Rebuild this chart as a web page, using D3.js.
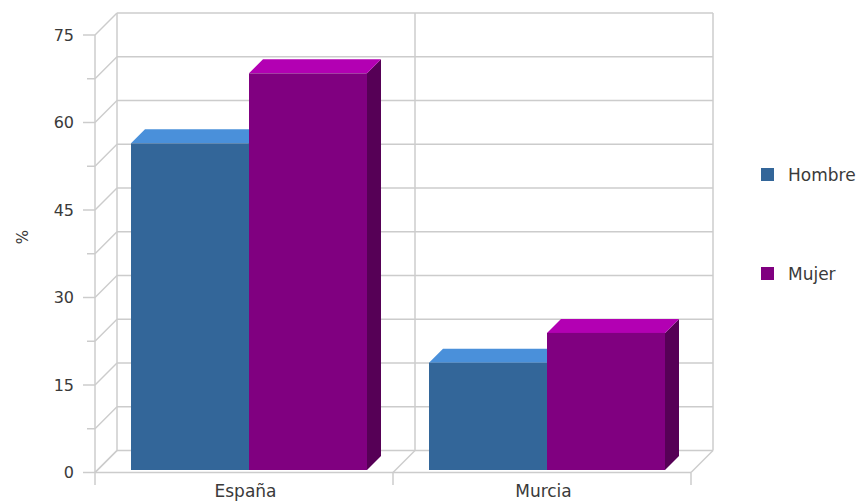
<!DOCTYPE html>
<html><head><meta charset="utf-8">
<script src="https://cdn.jsdelivr.net/npm/d3@7"></script>
<style>body{margin:0;background:#fff}svg{display:block}</style>
</head><body>
<svg id="c" width="859" height="503"></svg>
<script>
const categories = ["España", "Murcia"];
const seriesNames = ["Hombre", "Mujer"];
const hombre = [56, 18.4];
const mujer = [68, 23.5];
const yTicks = [0, 15, 30, 45, 60, 75];
const yLabel = "%";

const seriesColors = {
  Hombre: {front: "#336699", top: "#4a90da", side: "#234a70"},
  Mujer: {front: "#800080", top: "#b300b3", side: "#560056"}
};
const values = {Hombre: hombre, Mujer: mujer};

const svg = d3.select("#c");
const font = "DejaVu Sans, Verdana, sans-serif";
const grid = "#cccccc";
const txt = "#3a3a3a";
const D = 22;      // wall depth
const bd = 14;     // bar depth
const bo = 2.5;    // bar offset into depth

const x0 = 95, x1 = 691;
const y = d3.scaleLinear().domain([0, 75]).range([472.5, 35]);
const yb = d3.scaleLinear().domain([0, 75]).range([472.5 - bo, 35 - bo]);
const xBand = d3.scaleBand().domain(categories).range([x0, x1]).padding(0);
const xSub = d3.scaleBand().domain(seriesNames).range([36, 272]).padding(0);

const g = svg.append("g");
const allTicks = d3.range(0, 75.01, 7.5);

g.selectAll(".bg").data(allTicks).join("line")
  .attr("x1", x0 + D).attr("x2", x1 + D)
  .attr("y1", d => y(d) - D).attr("y2", d => y(d) - D)
  .attr("stroke", grid).attr("stroke-width", 1.5);
g.selectAll(".lw").data(allTicks).join("line")
  .attr("x1", x0).attr("x2", x0 + D)
  .attr("y1", d => y(d)).attr("y2", d => y(d) - D)
  .attr("stroke", grid).attr("stroke-width", 1.5);
const bounds = [x0, xBand("Murcia"), x1];
g.selectAll(".bv").data(bounds).join("line")
  .attr("x1", d => d + D).attr("x2", d => d + D)
  .attr("y1", y(75) - D).attr("y2", y(0) - D)
  .attr("stroke", grid).attr("stroke-width", 1.5);
g.selectAll(".fd").data(bounds).join("line")
  .attr("x1", d => d).attr("x2", d => d + D)
  .attr("y1", y(0)).attr("y2", y(0) - D)
  .attr("stroke", grid).attr("stroke-width", 1.5);
g.selectAll(".ct").data(bounds).join("line")
  .attr("x1", d => d).attr("x2", d => d)
  .attr("y1", y(0)).attr("y2", y(0) + 12.5)
  .attr("stroke", grid).attr("stroke-width", 1.5);
g.append("line").attr("x1", x0).attr("x2", x0).attr("y1", y(75)).attr("y2", y(0))
  .attr("stroke", grid).attr("stroke-width", 1.5);
g.append("line").attr("x1", x0).attr("x2", x1).attr("y1", y(0)).attr("y2", y(0))
  .attr("stroke", grid).attr("stroke-width", 1.5);
g.selectAll(".yt").data(allTicks).join("line")
  .attr("x1", d => yTicks.includes(d) ? x0 - 12 : x0 - 8).attr("x2", x0)
  .attr("y1", d => y(d)).attr("y2", d => y(d))
  .attr("stroke", grid).attr("stroke-width", 1.5);
g.selectAll(".yl").data(yTicks).join("text")
  .attr("x", 74).attr("y", d => y(d)).attr("dy", "0.36em")
  .attr("text-anchor", "end").attr("font-family", font).attr("font-size", 16)
  .attr("fill", txt).text(d => d);
svg.append("text").attr("transform", "translate(28,237) rotate(-90)")
  .attr("text-anchor", "middle").attr("font-family", font).attr("font-size", 15)
  .attr("fill", txt).text(yLabel);
g.selectAll(".cl").data(categories).join("text")
  .attr("x", d => xBand(d) + xBand.bandwidth() / 2 + 1.5).attr("y", 497)
  .attr("text-anchor", "middle").attr("font-family", font).attr("font-size", 17)
  .attr("fill", txt).text(d => d);

const bars = [];
categories.forEach((c, ci) => {
  seriesNames.forEach(s => {
    bars.push({c, s, v: values[s][ci]});
  });
});
const bw = xSub.bandwidth();
const bg = g.selectAll(".bar").data(bars).join("g");
bg.each(function(d) {
  const sel = d3.select(this);
  const xl = xBand(d.c) + xSub(d.s);
  const xr = xl + bw;
  const yt = yb(d.v), y0b = yb(0);
  const col = seriesColors[d.s];
  sel.append("polygon")
    .attr("points", [[xr, yt], [xr + bd, yt - bd], [xr + bd, y0b - bd], [xr, y0b]].join(" "))
    .attr("fill", col.side);
  sel.append("polygon")
    .attr("points", [[xl, yt], [xl + bd, yt - bd], [xr + bd, yt - bd], [xr, yt]].join(" "))
    .attr("fill", col.top);
  sel.append("rect").attr("x", xl).attr("y", yt).attr("width", bw).attr("height", y0b - yt)
    .attr("fill", col.front);
});

const leg = svg.selectAll(".lg").data(seriesNames).join("g")
  .attr("transform", (d, i) => `translate(761,${168 + i * 99})`);
leg.append("rect").attr("width", 13).attr("height", 13).attr("fill", d => seriesColors[d].front);
leg.append("text").attr("x", 27).attr("y", 13).attr("font-family", font).attr("font-size", 17)
  .attr("fill", txt).text(d => d);
</script>
</body></html>
